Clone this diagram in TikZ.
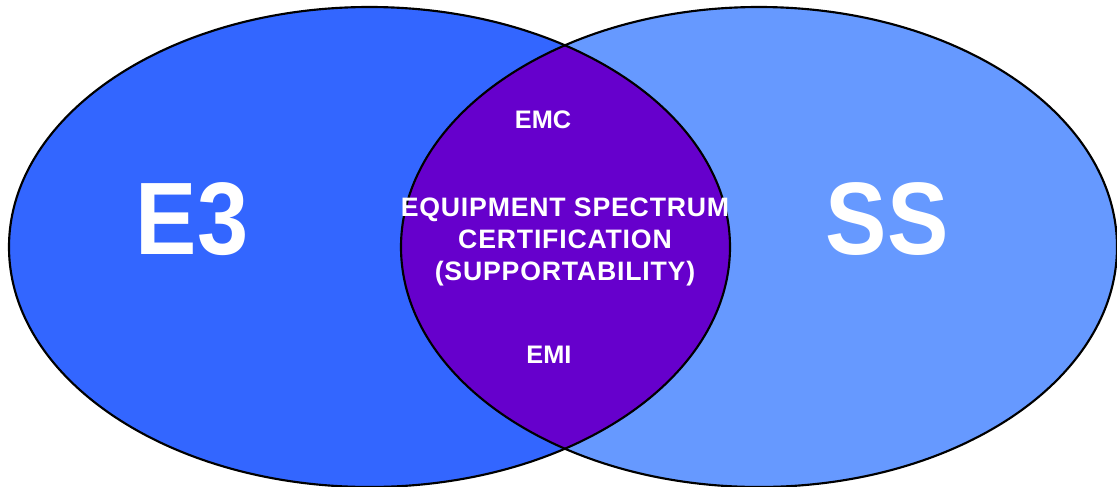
\documentclass[tikz,border=0pt]{standalone}
\usepackage{fontspec}
\setmainfont{Liberation Sans}
\usepackage{xcolor}
\definecolor{Black}{RGB}{0,0,0}
\definecolor{White}{RGB}{255,255,255}
\definecolor{LeftBlue}{RGB}{51,102,255}
\definecolor{RightBlue}{RGB}{102,153,255}
\definecolor{Purple}{RGB}{102,0,204}
\usepackage{tikz}

\begin{document}
\begin{tikzpicture}[x=0.75pt, y=-0.75pt,
		bigtext/.style={color=White, font=\fontsize{69}{69}\selectfont\bfseries},
		smalltext/.style={color=White, font=\fontsize{19}{24}\selectfont\bfseries, align=center}]
		
		\useasboundingbox (0,0) rectangle (1117,486);
		
		% Sets
		\fill[LeftBlue] (369.5,247) ellipse [x radius=360.5, y radius=240];
		\fill[RightBlue] (759,247) ellipse [x radius=358, y radius=240];
		
		% Overlap
		\begin{scope}
			\clip (369.5,247) ellipse [x radius=360.5, y radius=240];
			\fill[Purple] (759,247) ellipse [x radius=358, y radius=240];
		\end{scope}
		
		% Outlines
		\draw[draw=Black, line width=1.6pt] (369.5,247) ellipse [x radius=360.5, y radius=240];
		\draw[draw=Black, line width=1.6pt] (759,247) ellipse [x radius=358, y radius=240];
		
		% Labels
		\node[bigtext] (e3) at (192,219) {\scalebox{1}[1.12]{E3}};
		\node[bigtext] (ss) at (887,219) {\scalebox{1}[1.12]{SS}};
		
		\node[smalltext] (emc) at (543,120) {EMC};
		\node[smalltext] (emi) at (549,355) {EMI};
		\node[smalltext, font=\fontsize{20}{24}\selectfont\bfseries\addfontfeatures{LetterSpace=3}] (esc) at (565,242) {EQUIPMENT SPECTRUM\\CERTIFICATION\\(SUPPORTABILITY)};
		
	\end{tikzpicture}
\end{document}
